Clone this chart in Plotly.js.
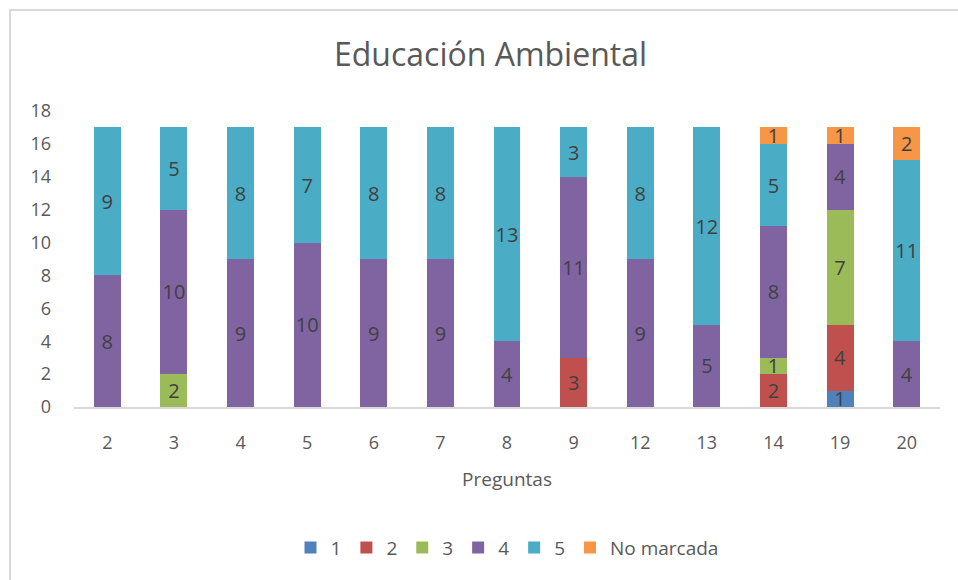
<!DOCTYPE html>
<html>
<head>
<meta charset="utf-8">
<script src="https://cdn.plot.ly/plotly-3.0.1.min.js"></script>
<style>
html,body{margin:0;padding:0;background:#fff;}
#wrap{position:absolute;left:0;top:0;width:958px;height:580px;}
#frame{position:absolute;left:9px;top:9px;width:960px;height:600px;border-left:2px solid #d9d9d9;border-top:2px solid #d9d9d9;pointer-events:none;}
#chart{position:absolute;left:0;top:0;width:958px;height:580px;}
</style>
</head>
<body>
<div id="wrap">
<div id="chart"></div>
<div id="frame"></div>
</div>
<script>
const categories = ["2","3","4","5","6","7","8","9","12","13","14","19","20"];
const seriesNames = ["1","2","3","4","5","No marcada"];
const s1 = [null,null,null,null,null,null,null,null,null,null,null,1,null];
const s2 = [null,null,null,null,null,null,null,3,null,null,2,4,null];
const s3 = [null,2,null,null,null,null,null,null,null,null,1,7,null];
const s4 = [8,10,9,10,9,9,4,11,9,5,8,4,4];
const s5 = [9,5,8,7,8,8,13,3,8,12,5,null,11];
const sNo = [null,null,null,null,null,null,null,null,null,null,1,1,2];
const colors = ["#4F81BD","#C0504D","#9BBB59","#8064A2","#4BACC6","#F79646"];
const allSeries = [s1,s2,s3,s4,s5,sNo];

const font = "Open Sans, sans-serif";
const traces = allSeries.map((vals,i)=>({
  type:"bar",
  name: seriesNames[i],
  x: categories,
  y: vals,
  marker:{color:colors[i]},
  text: vals.map(v=> v==null? "" : String(v)),
  textposition:"inside",
  insidetextanchor:"middle",
  constraintext:"none",
  textangle:0,
  textfont:{family:font,size:20,color:"#404040"},
  hoverinfo:"x+y+name"
}));

const layout = {
  width:958, height:580,
  barmode:"stack",
  bargap:0.595,
  paper_bgcolor:"rgba(0,0,0,0)",
  plot_bgcolor:"#fff",
  margin:{l:74,r:18,t:111,b:173},
  title:{text:"Educación Ambiental", font:{family:font,size:32,color:"#595959"}, x:0.512, xanchor:"center", y:0.905, yanchor:"middle"},
  xaxis:{
    type:"category",
    showline:true, linecolor:"#d9d9d9", linewidth:2,
    ticks:"", showgrid:false, ticklabelstandoff:18,
    tickfont:{family:font,size:18,color:"#595959"},
    title:{text:"Preguntas", font:{family:font,size:19,color:"#595959"}, standoff:20}
  },
  yaxis:{
    range:[0,18], dtick:2, showgrid:false, zeroline:false, showline:false,
    ticks:"", ticklabelstandoff:22,
    tickfont:{family:font,size:18,color:"#595959"}
  },
  legend:{
    orientation:"h", x:0.5, xanchor:"center", y:-0.475, yanchor:"middle",
    font:{family:font,size:19,color:"#595959"},
    traceorder:"normal", itemwidth:30
  },
  showlegend:true
};
Plotly.newPlot("chart", traces, layout, {displayModeBar:false, staticPlot:true});
</script>
</body>
</html>
